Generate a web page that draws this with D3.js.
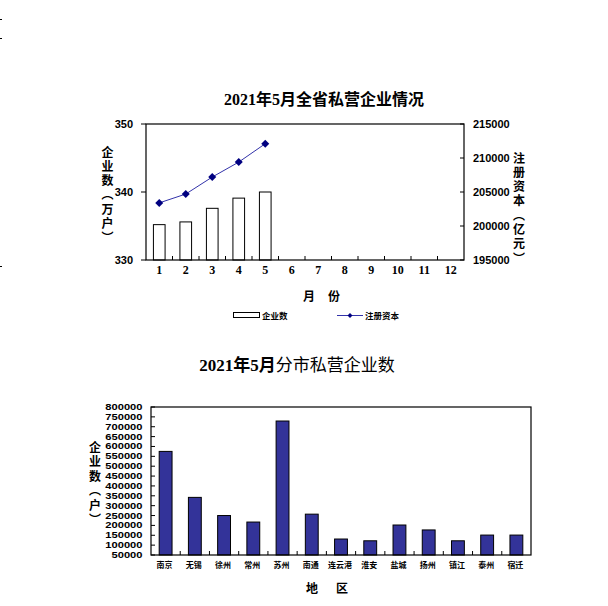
<!DOCTYPE html>
<html><head><meta charset="utf-8">
<script src="https://cdn.jsdelivr.net/npm/d3@7"></script>
<style>
body{margin:0;background:#fff;}
svg{display:block;}
</style></head>
<body>
<script>
// ---- Data ----
const months = ["1","2","3","4","5","6","7","8","9","10","11","12"];
const enterpriseCount = [335.2, 335.6, 337.6, 339.1, 340.0]; // 万户
const registeredCapital = [203400, 204700, 207200, 209400, 212100]; // 亿元
const leftTicks = [330, 340, 350];
const rightTicks = [195000, 200000, 205000, 210000, 215000];

const cities = ["南京","无锡","徐州","常州","苏州","南通","连云港","淮安","盐城","扬州","镇江","泰州","宿迁"];
const cityCounts = [575000, 342000, 250000, 217000, 729000, 257000, 131000, 122000, 202000, 177000, 122000, 151000, 151000];
const cityTicks = [50000,100000,150000,200000,250000,300000,350000,400000,450000,500000,550000,600000,650000,700000,750000,800000];

const W = 608, H = 606;
const svg = d3.select("body").append("svg").attr("width", W).attr("height", H);
const CJK = "'Noto Sans CJK SC', sans-serif";
const SERIF = "'Liberation Serif', 'DejaVu Serif', serif";
const SANS = "'Liberation Sans', Arial, sans-serif";

// stray marks at left edge
[19, 38, 266].forEach(y => svg.append("line").attr("x1",0).attr("x2",2).attr("y1",y+0.5).attr("y2",y+0.5).attr("stroke","#000").attr("stroke-width",1));

// ================= Chart 1 =================
const c1 = {l:146, r:464, t:124, b:260};
const x1 = d3.scaleBand().domain(months).range([c1.l, c1.r]);
const yL = d3.scaleLinear().domain([330, 350]).range([c1.b, c1.t]);
const yR = d3.scaleLinear().domain([195000, 215000]).range([c1.b, c1.t]);

const t1 = svg.append("text").attr("x", 324).attr("y", 105).attr("text-anchor","middle")
  .attr("font-size", 16).attr("font-weight","bold");
t1.append("tspan").attr("font-family", SERIF).text("2021");
t1.append("tspan").attr("font-family", CJK).text("年");
t1.append("tspan").attr("font-family", SERIF).text("5");
t1.append("tspan").attr("font-family", CJK).text("月全省私营企业情况");

// bars
svg.append("g").selectAll("rect").data(enterpriseCount).join("rect")
  .attr("x", (d,i) => x1(months[i]) + x1.bandwidth()*0.28)
  .attr("width", x1.bandwidth()*0.44)
  .attr("y", d => yL(d))
  .attr("height", d => c1.b - yL(d))
  .attr("fill","#fff").attr("stroke","#000").attr("stroke-width",1);

// frame
svg.append("rect").attr("x", c1.l).attr("y", c1.t).attr("width", c1.r-c1.l).attr("height", c1.b-c1.t)
  .attr("fill","none").attr("stroke","#000").attr("stroke-width",1.2);

// left axis ticks (outside)
svg.append("g").selectAll("line").data(leftTicks).join("line")
  .attr("x1", c1.l-5).attr("x2", c1.l).attr("y1", d=>yL(d)).attr("y2", d=>yL(d)).attr("stroke","#000");
svg.append("g").selectAll("text").data(leftTicks).join("text")
  .attr("x", 133).attr("y", d=>yL(d)+4).attr("text-anchor","end")
  .attr("font-family", SANS).attr("font-weight","bold").attr("font-size", 11).text(d=>d);

// right axis ticks (inside)
svg.append("g").selectAll("line").data(rightTicks).join("line")
  .attr("x1", c1.r-4).attr("x2", c1.r).attr("y1", d=>yR(d)).attr("y2", d=>yR(d)).attr("stroke","#000");
svg.append("g").selectAll("text").data(rightTicks).join("text")
  .attr("x", 473).attr("y", d=>yR(d)+4).attr("text-anchor","start")
  .attr("font-family", SANS).attr("font-weight","bold").attr("font-size", 11).text(d=>d);

// x ticks between categories (inside, upward)
svg.append("g").selectAll("line").data(months.slice(1)).join("line")
  .attr("x1", d=>x1(d)).attr("x2", d=>x1(d)).attr("y1", c1.b-4).attr("y2", c1.b).attr("stroke","#000");
svg.append("g").selectAll("text").data(months).join("text")
  .attr("x", d=>x1(d)+x1.bandwidth()/2).attr("y", 274).attr("text-anchor","middle")
  .attr("font-family", SERIF).attr("font-weight","bold").attr("font-size", 12).text(d=>d);

// line series
const lineGen = d3.line().x((d,i)=>x1(months[i])+x1.bandwidth()/2).y(d=>yR(d));
svg.append("path").datum(registeredCapital).attr("d", lineGen)
  .attr("fill","none").attr("stroke","#3333aa").attr("stroke-width",1);
svg.append("g").selectAll("path").data(registeredCapital).join("path")
  .attr("transform",(d,i)=>`translate(${x1(months[i])+x1.bandwidth()/2},${yR(d)})`)
  .attr("d", "M0,-4L4,0L0,4L-4,0Z").attr("fill","#000080");

// vertical axis titles (single vertical text each)
function vtext(str, x, yTop, spacing, size){
  svg.append("text").attr("x", x).attr("y", yTop)
    .style("writing-mode","vertical-rl")
    .attr("font-family", CJK).attr("font-weight","bold").attr("font-size", size)
    .attr("letter-spacing", spacing).text(str);
}
vtext("企业数（万户）", 107.5, 146, 2.3, 12);
vtext("注册资本（亿元）", 519, 152, 2.3, 12);

// x axis title
svg.append("text").attr("x", 309).attr("y", 301).attr("text-anchor","middle")
  .attr("font-family", CJK).attr("font-weight","bold").attr("font-size", 12).text("月");
svg.append("text").attr("x", 334).attr("y", 301).attr("text-anchor","middle")
  .attr("font-family", CJK).attr("font-weight","bold").attr("font-size", 12).text("份");

// legend
svg.append("rect").attr("x", 233.5).attr("y", 312.5).attr("width", 26).attr("height", 5)
  .attr("fill","#fff").attr("stroke","#000");
svg.append("text").attr("x", 262).attr("y", 319).attr("font-family", CJK).attr("font-weight","bold")
  .attr("font-size", 8.5).text("企业数");
svg.append("line").attr("x1", 337).attr("x2", 363).attr("y1", 315.5).attr("y2", 315.5).attr("stroke","#3333aa");
svg.append("path").attr("transform","translate(350,315.5)").attr("d","M0,-2.5L2.5,0L0,2.5L-2.5,0Z").attr("fill","#000080");
svg.append("text").attr("x", 365).attr("y", 319).attr("font-family", CJK).attr("font-weight","bold")
  .attr("font-size", 8.5).text("注册资本");

// ================= Chart 2 =================
const c2 = {l:151, r:531, t:407, b:555};
const x2 = d3.scaleBand().domain(cities).range([c2.l, c2.r]);
const y2 = d3.scaleLinear().domain([50000, 800000]).range([c2.b, c2.t]);

const t2 = svg.append("text").attr("x", 297).attr("y", 371).attr("text-anchor","middle").attr("font-size", 17);
t2.append("tspan").attr("font-family", SERIF).attr("font-weight","bold").text("2021");
t2.append("tspan").attr("font-family", CJK).attr("font-weight","bold").text("年");
t2.append("tspan").attr("font-family", SERIF).attr("font-weight","bold").text("5");
t2.append("tspan").attr("font-family", CJK).attr("font-weight","bold").text("月");
t2.append("tspan").attr("font-family", CJK).attr("font-weight","normal").text("分市私营企业数");

svg.append("g").selectAll("rect").data(cityCounts).join("rect")
  .attr("x", (d,i)=>x2(cities[i]) + x2.bandwidth()*0.28)
  .attr("width", x2.bandwidth()*0.44)
  .attr("y", d=>y2(d))
  .attr("height", d=>c2.b - y2(d))
  .attr("fill","#333399").attr("stroke","#000").attr("stroke-width",1);

svg.append("rect").attr("x", c2.l).attr("y", c2.t).attr("width", c2.r-c2.l).attr("height", c2.b-c2.t)
  .attr("fill","none").attr("stroke","#000").attr("stroke-width",1.2);

// y ticks (inside)
svg.append("g").selectAll("line").data(cityTicks).join("line")
  .attr("x1", c2.l).attr("x2", c2.l+4).attr("y1", d=>y2(d)).attr("y2", d=>y2(d)).attr("stroke","#000");
svg.append("g").selectAll("text").data(cityTicks).join("text")
  .attr("x", 142.5).attr("y", d=>y2(d)+3).attr("text-anchor","end")
  .attr("font-family", SANS).attr("font-weight","bold").attr("font-size", 8.5)
  .attr("textLength", d=>String(d).length*6.2).attr("lengthAdjust","spacingAndGlyphs").text(d=>d);

svg.append("g").selectAll("line").data(cities.slice(1)).join("line")
  .attr("x1", d=>x2(d)).attr("x2", d=>x2(d)).attr("y1", c2.b-4).attr("y2", c2.b).attr("stroke","#000");
svg.append("g").selectAll("text").data(cities).join("text")
  .attr("x", d=>x2(d)+x2.bandwidth()/2-1).attr("y", 568).attr("text-anchor","middle")
  .attr("font-family", CJK).attr("font-weight","bold").attr("font-size", 8).text(d=>d);

vtext("企业数（户）", 95, 441, 2.5, 12);

svg.append("text").attr("x", 312).attr("y", 593).attr("text-anchor","middle")
  .attr("font-family", CJK).attr("font-weight","bold").attr("font-size", 12).text("地");
svg.append("text").attr("x", 342).attr("y", 593).attr("text-anchor","middle")
  .attr("font-family", CJK).attr("font-weight","bold").attr("font-size", 12).text("区");
</script>
</body></html>
